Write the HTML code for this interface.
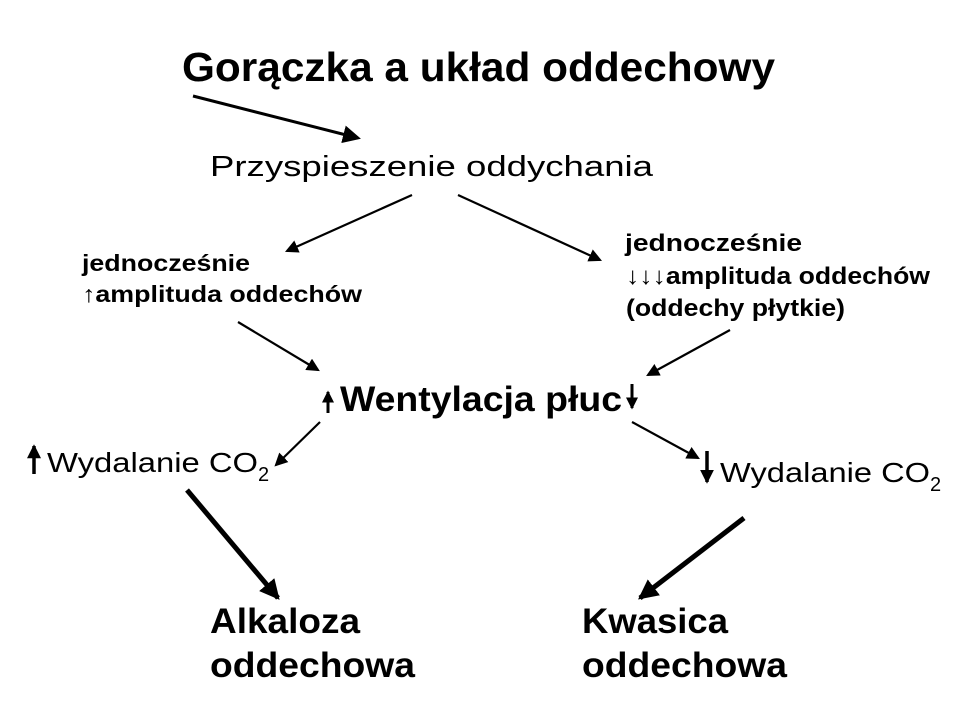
<!DOCTYPE html>
<html><head><meta charset="utf-8"><style>html,body{margin:0;padding:0;background:#fff;width:960px;height:720px;overflow:hidden}</style></head>
<body>
<svg width="960" height="720" viewBox="0 0 960 720" xmlns="http://www.w3.org/2000/svg" font-family="Liberation Sans, Arial, sans-serif">
<defs>
<marker id="a" markerWidth="6" markerHeight="6" refX="5" refY="3" orient="auto" markerUnits="strokeWidth"><path d="M0,0 L6,3 L0,6 Z" fill="#000"/></marker>
<marker id="b" markerWidth="4" markerHeight="4" refX="3.5" refY="2" orient="auto" markerUnits="strokeWidth"><path d="M0,0 L4,2 L0,4 Z" fill="#000"/></marker>
</defs>
<g stroke="#000" fill="none">
<line x1="193" y1="96" x2="358" y2="138" stroke-width="3" marker-end="url(#a)"/>
<line x1="412" y1="195" x2="287" y2="251" stroke-width="2.2" marker-end="url(#a)"/>
<line x1="458" y1="195" x2="600" y2="260" stroke-width="2.2" marker-end="url(#a)"/>
<line x1="238" y1="322" x2="318" y2="370" stroke-width="2.2" marker-end="url(#a)"/>
<line x1="730" y1="330" x2="648" y2="375" stroke-width="2.2" marker-end="url(#a)"/>
<line x1="320" y1="422" x2="276" y2="465" stroke-width="2.2" marker-end="url(#a)"/>
<line x1="632" y1="422" x2="698" y2="458" stroke-width="2.2" marker-end="url(#a)"/>
<line x1="187" y1="490" x2="278" y2="598" stroke-width="5" marker-end="url(#b)"/>
<line x1="744" y1="518" x2="640" y2="598" stroke-width="5" marker-end="url(#b)"/>
<line x1="328" y1="413" x2="328" y2="392" stroke-width="3" marker-end="url(#b)"/>
<line x1="632" y1="384" x2="632" y2="408" stroke-width="3" marker-end="url(#b)"/>
<line x1="34" y1="474" x2="34" y2="446" stroke-width="3.5" marker-end="url(#b)"/>
<line x1="707" y1="451" x2="707" y2="482" stroke-width="3.5" marker-end="url(#b)"/>
</g>
<g fill="#000">
<text x="182" y="81" font-size="41" font-weight="bold" textLength="593" lengthAdjust="spacingAndGlyphs">Gorączka a układ oddechowy</text>
<text x="210" y="176" font-size="29" textLength="443" lengthAdjust="spacingAndGlyphs">Przyspieszenie oddychania</text>
<text x="82" y="271" font-size="23" font-weight="bold" textLength="168" lengthAdjust="spacingAndGlyphs">jednocześnie</text>
<text x="82" y="302" font-size="23" font-weight="bold" textLength="280" lengthAdjust="spacingAndGlyphs"><tspan font-weight="normal">↑</tspan>amplituda oddechów</text>
<text x="625" y="251" font-size="24" font-weight="bold" textLength="177" lengthAdjust="spacingAndGlyphs">jednocześnie</text>
<text x="626" y="284" font-size="24" font-weight="bold" textLength="304" lengthAdjust="spacingAndGlyphs"><tspan font-weight="normal">↓↓↓</tspan>amplituda oddechów</text>
<text x="626" y="316" font-size="24" font-weight="bold" textLength="219" lengthAdjust="spacingAndGlyphs">(oddechy płytkie)</text>
<text x="340" y="411" font-size="35" font-weight="bold" textLength="282" lengthAdjust="spacingAndGlyphs">Wentylacja płuc</text>
<text x="47" y="472" font-size="28" textLength="211" lengthAdjust="spacingAndGlyphs">Wydalanie CO</text>
<text x="258" y="481" font-size="20">2</text>
<text x="720" y="482" font-size="28" textLength="210" lengthAdjust="spacingAndGlyphs">Wydalanie CO</text>
<text x="930" y="491" font-size="20">2</text>
<text x="210" y="633" font-size="35" font-weight="bold" textLength="150" lengthAdjust="spacingAndGlyphs">Alkaloza</text>
<text x="210" y="677" font-size="35" font-weight="bold" textLength="205" lengthAdjust="spacingAndGlyphs">oddechowa</text>
<text x="582" y="633" font-size="35" font-weight="bold" textLength="146" lengthAdjust="spacingAndGlyphs">Kwasica</text>
<text x="582" y="677" font-size="35" font-weight="bold" textLength="205" lengthAdjust="spacingAndGlyphs">oddechowa</text>
</g>
</svg>
</body></html>
